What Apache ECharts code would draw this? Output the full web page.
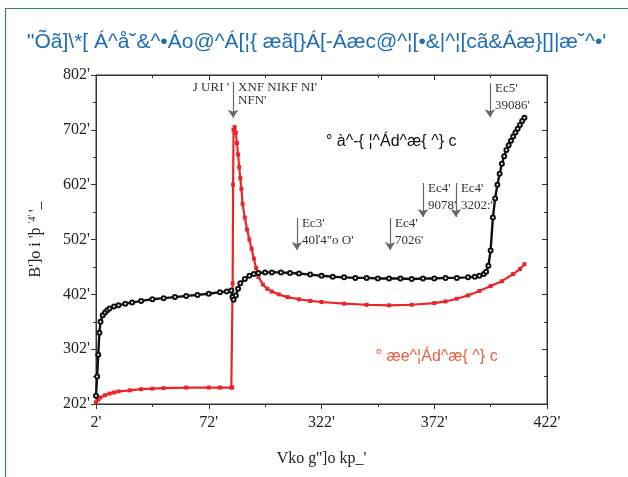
<!DOCTYPE html>
<html>
<head>
<meta charset="utf-8">
<script src="https://cdn.jsdelivr.net/npm/echarts@6/dist/echarts.min.js"></script>
<style>html,body{margin:0;padding:0;background:#fff}#c{width:628px;height:477px}</style>
</head>
<body>
<div id="c"></div>
<script>
// ---- data ----
const titleText = "\"Õã]\\*[ Á^å˘&^•Áo@^Á[¦{ æã[}Á[-Áæc@^¦[•&|^¦[cã&Áæ}[]|æ˘^•'";
const xTickLabels = ["2'", "72'", "322'", "372'", "422'"];
const yTickLabels = ["202'", "302'", "402'", "502'", "602'", "702'", "802'"];
const xAxisName = "Vko g'']o kp_'";
const blackLabel = "° à^-{ ¦^Ád^æ{ ^} c";
const redLabel = "° æe^¦Ád^æ{ ^} c";

const blackX = [0, 0.5, 1, 1.5, 2, 3, 4, 5, 6, 8, 10, 13, 16, 20, 25, 30, 35, 40, 45, 50, 55, 58, 60, 60.5, 61, 62, 63, 64, 66, 68, 70, 72, 75, 78, 82, 86, 90, 95, 100, 105, 110, 115, 120, 125, 130, 135, 140, 145, 150, 155, 160, 165, 168, 170, 172, 173, 174, 175, 176, 177, 178, 179, 180, 181, 182, 183, 184, 185, 186, 187, 188, 189, 190];
const blackY = [215, 250, 290, 330, 350, 362, 367, 371, 374, 378, 380, 383, 385, 388, 391, 393, 395, 397, 399, 401, 404, 405, 407, 395, 390, 398, 410, 420, 428, 434, 437, 439, 440, 440, 440, 439, 438, 436, 434, 432, 431, 430, 430, 429, 429, 429, 428, 429, 429, 430, 430, 431, 432, 434, 437, 441, 452, 480, 540, 575, 600, 620, 638, 652, 663, 672, 680, 688, 695, 702, 709, 716, 722];

const redX = [0, 1, 2, 4, 6, 8, 10, 15, 20, 25, 30, 40, 50, 55, 60, 60.4, 60.6, 60.8, 61, 61.5, 62, 62.5, 63, 63.5, 64, 64.5, 65, 66, 67, 68, 69, 70, 71, 72, 74, 76, 78, 81, 85, 90, 95, 100, 110, 120, 130, 140, 150, 155, 160, 165, 170, 175, 180, 185, 188, 190];
const redY = [203, 208, 212, 216, 219, 221, 223, 225, 227, 228, 229, 230, 230, 230, 230, 230, 420, 600, 700, 705, 695, 676, 655, 632, 612, 592, 565, 540, 518, 500, 483, 465, 448, 432, 418, 410, 405, 400, 395, 391, 388, 386, 383, 381, 380, 381, 384, 387, 392, 398, 406, 415, 424, 437, 446, 455];

// annotation arrows (data coords)
const arrowX = [60.8, 89.1, 130.4, 145, 159.6, 174.7];
const arrowTop = [787, 539, 539, 603, 603, 785];
const arrowBottom = [722, 481, 481, 541, 541, 723];
const annotLine1 = ["XNF NIKF NI'", "Ec3'", "Ec4'", "Ec4'", "Ec4'", "Ec5'"];
const annotLine2 = ["NFN'", "40ľ4\"o O'", "7026'", "9078'", "3202:'", "39086'"];
const annotLeft = "J URI '";

const serif = "'Liberation Serif','Times New Roman',serif";
const sans = "'Liberation Sans',Arial,sans-serif";

const chart = echarts.init(document.getElementById('c'), null, {renderer: 'canvas'});

const pairs = (xs, ys) => xs.map((x, i) => [x, ys[i]]);

const option = {
  animation: false,
  backgroundColor: '#fff',
  grid: {left: 96, right: 81, top: 75, bottom: 73, show: true, borderColor: '#333', borderWidth: 1, backgroundColor: 'transparent'},
  xAxis: [{
    type: 'value', min: 0, max: 200, interval: 50,
    axisLine: {show: true, onZero: false, lineStyle: {color: '#333', width: 1}},
    axisTick: {show: true, inside: false, length: 5, lineStyle: {color: '#333'}},
    minorTick: {show: true, splitNumber: 2, length: 3, lineStyle: {color: '#333'}},
    splitLine: {show: false},
    axisLabel: {margin: 11, fontFamily: serif, fontSize: 16, color: '#222',
      formatter: v => xTickLabels[Math.round(v / 50)]},
    name: xAxisName, nameLocation: 'middle', nameGap: 47,
    nameTextStyle: {fontFamily: serif, fontSize: 16, color: '#222'}
  }, {
    type: 'value', min: 0, max: 200, interval: 50, position: 'top',
    axisLine: {show: true, onZero: false, lineStyle: {color: '#333', width: 1}},
    axisTick: {show: true, inside: true, length: 5, lineStyle: {color: '#333'}},
    minorTick: {show: true, splitNumber: 2, length: 3, lineStyle: {color: '#333'}},
    splitLine: {show: false}, axisLabel: {show: false}
  }],
  yAxis: [{
    type: 'value', min: 200, max: 800, interval: 100,
    axisLine: {show: true, onZero: false, lineStyle: {color: '#333', width: 1}},
    axisTick: {show: true, inside: false, length: 5, lineStyle: {color: '#333'}},
    minorTick: {show: true, splitNumber: 2, length: 3, lineStyle: {color: '#333'}},
    splitLine: {show: false},
    axisLabel: {margin: 6, fontFamily: serif, fontSize: 16, color: '#222',
      formatter: v => yTickLabels[Math.round((v - 200) / 100)]},
    name: "{a|B']o i 'þ }{s|'4' }{a|'_}", nameLocation: 'middle', nameGap: 51, nameRotate: 90,
    nameMoveOverlap: false,
    nameTextStyle: {fontFamily: serif, fontSize: 16, color: '#222',
      rich: {a: {fontFamily: serif, fontSize: 16, color: '#222'},
             s: {fontFamily: serif, fontSize: 10, color: '#222', padding: [0, 0, 8, 0]}}}
  }, {
    type: 'value', min: 200, max: 800, interval: 100, position: 'right',
    axisLine: {show: true, onZero: false, lineStyle: {color: '#333', width: 1}},
    axisTick: {show: true, inside: true, length: 5, lineStyle: {color: '#333'}},
    minorTick: {show: true, splitNumber: 2, length: 3, lineStyle: {color: '#333'}},
    splitLine: {show: false}, axisLabel: {show: false}
  }],
  series: [{
    name: 'red', type: 'line', data: pairs(redX, redY),
    symbol: 'rect', symbolSize: 4, showAllSymbol: true,
    itemStyle: {color: '#e8262a'},
    lineStyle: {color: '#e8262a', width: 2.2}, z: 3
  }, {
    name: 'black', type: 'line', data: pairs(blackX, blackY),
    symbol: 'emptyCircle', symbolSize: 4, showAllSymbol: true,
    itemStyle: {color: '#111', borderColor: '#111'},
    lineStyle: {color: '#111', width: 2.4}, z: 4,
    markLine: {
      silent: true, symbol: ['none', 'arrow'], symbolSize: 8,
      label: {show: false},
      lineStyle: {color: '#666', width: 1.2, type: 'solid'},
      data: arrowX.map((x, i) => [{coord: [x, arrowTop[i]]}, {coord: [x, arrowBottom[i]]}])
    }
  }]
};
chart.setOption(option);

// text annotations positioned from data coordinates
const g = [];
g.push({type: 'rect', shape: {x: 5.5, y: 8.5, width: 700, height: 600},
  style: {fill: 'none', stroke: '#2e8b57', lineWidth: 1.2}, silent: true, z: 0});
g.push({type: 'text', left: 27, top: 32,
  style: {text: titleText, fill: '#1d6db5', font: "21px " + sans}});
arrowX.forEach((x, i) => {
  const p = chart.convertToPixel({gridIndex: 0}, [x, arrowTop[i]]);
  g.push({type: 'text', x: p[0] + 5, y: p[1] - 1,
    style: {text: annotLine1[i], fill: '#333', font: "13px " + serif}});
  g.push({type: 'text', x: p[0] + 5, y: p[1] + 16 + (i === 0 ? -4 : 0),
    style: {text: annotLine2[i], fill: '#333', font: "13px " + serif}});
});
{
  const p = chart.convertToPixel({gridIndex: 0}, [arrowX[0], arrowTop[0]]);
  g.push({type: 'text', x: p[0] - 4, y: p[1] - 1,
    style: {text: annotLeft, fill: '#333', font: "13px " + serif, align: 'right'}});
}
{
  const pb = chart.convertToPixel({gridIndex: 0}, [102, 693]);
  g.push({type: 'text', x: pb[0], y: pb[1],
    style: {text: blackLabel, fill: '#111', font: "16px " + sans}});
  const pr = chart.convertToPixel({gridIndex: 0}, [124, 301]);
  g.push({type: 'text', x: pr[0], y: pr[1],
    style: {text: redLabel, fill: '#e8603c', font: "16px " + sans}});
}
chart.setOption({graphic: g});
</script>
</body>
</html>
